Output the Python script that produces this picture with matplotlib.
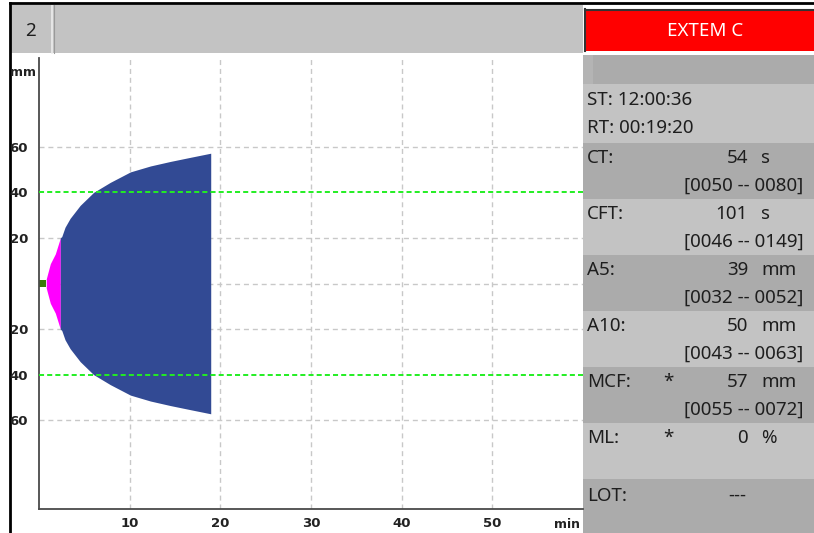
import matplotlib
matplotlib.use("Agg")
import matplotlib.pyplot as plt
from matplotlib.patches import Rectangle

# trace (minutes / mm, half amplitude)
ct_time = [0.0, 0.8]
ct_amp = [1.5, 1.5]
cft_time = [0.8, 1.0, 1.25, 1.8, 2.35]
cft_amp = [2.0, 5.0, 8.7, 13.0, 20.0]
clot_time = [2.35, 2.51, 2.87, 3.43, 4.54, 6.02, 7.86, 10.08, 12.29, 14.5, 16.7, 18.94]
clot_amp = [20.0, 20.6, 24.7, 28.6, 34.3, 40.0, 44.4, 49.0, 51.6, 53.6, 55.4, 57.2]

x_ticks = [10, 20, 30, 40, 50]
y_ticks = [-60, -40, -20, 20, 40, 60]
ref_lines = [-40, 40]

channel = "2"
assay = "EXTEM C"
start_time = "ST: 12:00:36"
run_time = "RT: 00:19:20"
params = ["CT:", "CFT:", "A5:", "A10:", "MCF:", "ML:"]
values = ["54", "101", "39", "50", "57", "0"]
units = ["s", "s", "mm", "mm", "mm", "%"]
flags = ["", "", "", "", "*", "*"]
ranges = ["[0050 -- 0080]", "[0046 -- 0149]", "[0032 -- 0052]",
          "[0043 -- 0063]", "[0055 -- 0072]", ""]
lot = "---"

W, H = 814, 533
fig = plt.figure(figsize=(W / 100, H / 100), dpi=100)
fig.patch.set_facecolor("white")

# pixel canvas for the frame and the result panel
bg = fig.add_axes([0, 0, 1, 1])
bg.set_xlim(0, W)
bg.set_ylim(H, 0)
bg.axis("off")

light = "#C3C3C3"
dark = "#ABABAB"
txt = "#1E1E1E"
font = ["Noto Sans", "DejaVu Sans"]
fs = 13.5

bg.add_patch(Rectangle((11, 5), 572, 48, color=light, lw=0))
bg.plot([52, 52], [5, 53], color="#EDEDED", lw=1.2)
bg.plot([53.5, 53.5], [5, 53], color="#9A9A9A", lw=0.8)
bg.text(31, 31, channel, ha="center", va="center", fontsize=fs, color=txt, family=font)

bg.add_patch(Rectangle((584, 9), 230, 42, facecolor="#FF0000", edgecolor="none"))
bg.plot([585, 585], [51, 9], color="#333333", lw=1.5)
bg.plot([585, 814], [10, 10], color="#333333", lw=1.5)
bg.text(705, 31, assay, ha="center", va="center", fontsize=fs, color="white", family=font)

bg.add_patch(Rectangle((583, 55), 231, 29, color=dark, lw=0))
bg.add_patch(Rectangle((583, 55), 10, 29, color="#B4B4B4", lw=0))
bg.add_patch(Rectangle((583, 84), 231, 59, color=light, lw=0))
bg.text(587, 100, start_time, va="center", fontsize=fs, color=txt, family=font)
bg.text(587, 128, run_time, va="center", fontsize=fs, color=txt, family=font)

row_top = 143
for i in range(len(params)):
    bg.add_patch(Rectangle((583, row_top), 231, 56, color=dark if i % 2 == 0 else light, lw=0))
    y1 = row_top + 15
    bg.text(587, y1, params[i], va="center", fontsize=fs, color=txt, family=font)
    bg.text(668, y1, flags[i], ha="center", va="center", fontsize=fs, color=txt, family=font)
    bg.text(748, y1, values[i], ha="right", va="center", fontsize=fs, color=txt, family=font)
    bg.text(761, y1, units[i], va="center", fontsize=fs, color=txt, family=font)
    bg.text(684, y1 + 28, ranges[i], va="center", fontsize=fs, color=txt, family=font)
    row_top += 56
bg.add_patch(Rectangle((583, row_top), 231, H - row_top, color=dark, lw=0))
bg.text(587, row_top + 17, "LOT:", va="center", fontsize=fs, color=txt, family=font)
bg.text(737, row_top + 17, lot, ha="center", va="center", fontsize=fs, color=txt, family=font)

# outer frame
bg.plot([10, W], [3, 3], color="black", lw=2)
bg.plot([10, 10], [3, H], color="black", lw=2)

# TEMogram
ax = fig.add_axes([39 / W, (H - 509) / H, (583 - 39) / W, (509 - 58) / H])
ax.set_xlim(0, 60)
ax.set_ylim(-99, 99)
for s in ["top", "right"]:
    ax.spines[s].set_visible(False)
for s in ["left", "bottom"]:
    ax.spines[s].set_color("#4A4A4A")
    ax.spines[s].set_linewidth(1.3)

for x in x_ticks:
    ax.axvline(x, color="#C8C8C8", lw=1.0, linestyle=(0, (3.6, 2.8)), zorder=1)
for y in [-60, -20, 0, 20, 60]:
    ax.axhline(y, color="#C8C8C8", lw=1.0, linestyle=(0, (3.6, 2.8)), zorder=1)
for y in ref_lines:
    ax.axhline(y, color="#22EE22", lw=1.4, linestyle=(0, (2.6, 1.6)), zorder=3)

ax.fill_between(ct_time, [-a for a in ct_amp], ct_amp, color="#3C7A0A", lw=0, zorder=2)
ax.fill_between(cft_time, [-a for a in cft_amp], cft_amp, color="#FF00FF", lw=0, zorder=2)
ax.fill_between(clot_time, [-a for a in clot_amp], clot_amp, color="#324A94", lw=0, zorder=2)

narrow = ["Liberation Sans Narrow", "DejaVu Sans"]
ax.set_xticks(x_ticks)
ax.set_xticklabels([str(x) for x in x_ticks], family=narrow, fontweight="bold", fontsize=9.5)
ax.set_yticks(y_ticks)
ax.set_yticklabels([str(abs(y)) for y in y_ticks], family=narrow, fontweight="bold", fontsize=9.5)
ax.tick_params(length=0, colors="#222222")
ax.tick_params(axis="x", pad=6)
ax.tick_params(axis="y", pad=8)

bg.text(23, 72, "mm", ha="center", va="center", family=narrow, fontweight="bold", fontsize=9, color="#222222")
bg.text(567, 524, "min", ha="center", va="center", family=narrow, fontweight="bold", fontsize=9, color="#222222")

fig.savefig("out.png", dpi=100)
